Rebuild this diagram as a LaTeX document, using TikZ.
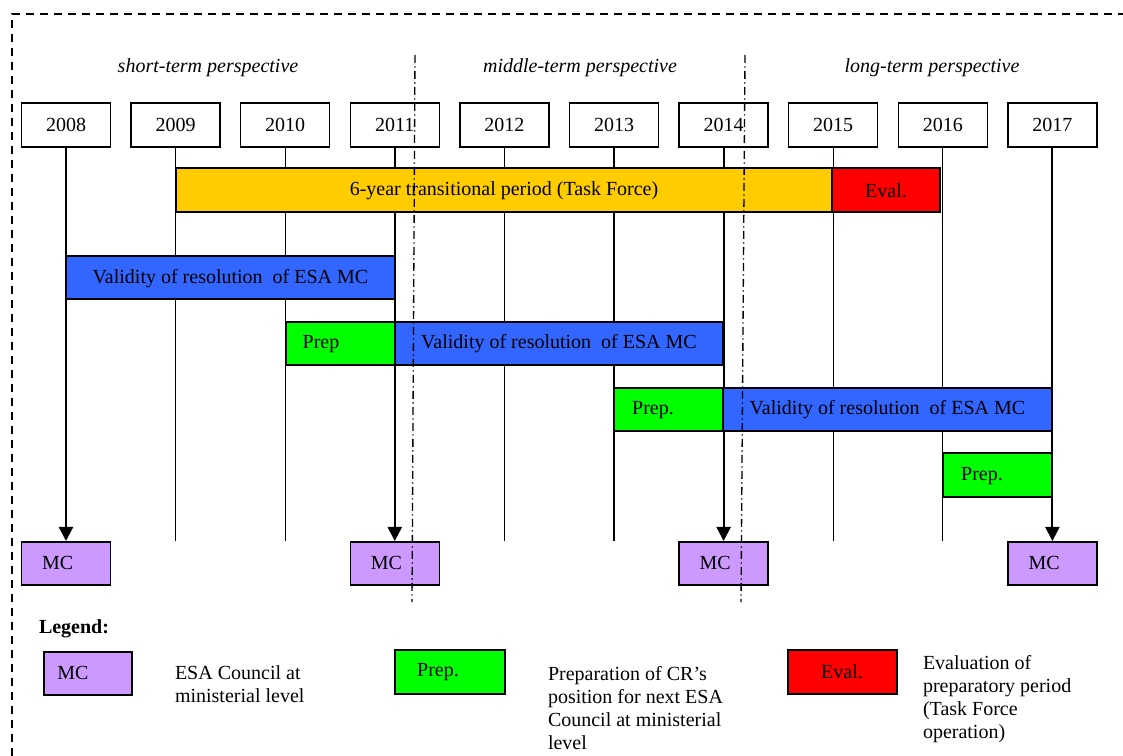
\documentclass[12pt,tikz,border=0pt]{standalone}
\usepackage{fontspec}
\setmainfont{Liberation Serif}
\usetikzlibrary{arrows.meta}

\definecolor{tfyellow}{HTML}{FFCC00}
\definecolor{evalred}{HTML}{FF0000}
\definecolor{resblue}{HTML}{3366FF}
\definecolor{prepgreen}{HTML}{00FF00}
\definecolor{mcpurple}{HTML}{CC99FF}

\begin{document}
\begin{tikzpicture}[x=0.6pt,y=-0.6pt,
    yearbox/.style={draw,line width=0.9pt,fill=white,minimum width=53.4pt,minimum height=26.4pt,inner sep=0pt},
    mcbox/.style={draw,line width=0.9pt,fill=mcpurple,minimum width=53.4pt,minimum height=26pt,inner sep=0pt,
      label={[xshift=-5pt]center:MC}},
    period/.style={draw,line width=0.9pt},
    timeline/.style={line width=0.7pt},
    mcarrow/.style={line width=1.3pt,-{Triangle[length=8.5pt,width=8.5pt]}},
    divider/.style={line width=0.8pt,dash pattern=on 4.8pt off 2pt on 0.8pt off 2pt},
    frame/.style={line width=0.7pt,dash pattern=on 4.8pt off 3.6pt},
    desc/.style={anchor=north west,align=left,font=\fontsize{12}{13.8}\selectfont}]
  \useasboundingbox (0,0) rectangle (1123,756);
  \draw[frame] (12,756) -- (12,14) -- (1123,14);

  % perspectives
  \node[font=\itshape] (short) at (208,68) {short-term perspective};
  \node[font=\itshape] (middle) at (580,68) {middle-term perspective};
  \node[font=\itshape] (long) at (932,68) {long-term perspective};

  % years
  \foreach \yr [count=\i from 0] in {2008,...,2017}
    \node[yearbox] (y\yr) at ({66+109.6*\i},125) {\yr};
  \coordinate (base) at (0,541);

  % council meetings
  \foreach \yr in {2008,2011,2014,2017}
    \node[mcbox,anchor=north] (mc\yr) at (y\yr.south |- base) {};

  % time lines
  \foreach \yr in {2009,2010,2012,2013,2015,2016}
    \draw[timeline] (y\yr.south) -- (y\yr.south |- base);
  \foreach \yr in {2008,2011,2014,2017}
    \draw[mcarrow] (y\yr.south) -- (mc\yr.north);

  % periods
  \draw[period,fill=tfyellow] (176,168) rectangle (832,212);
  \draw[period,fill=evalred] (832,168) rectangle (940,212);
  \node (transit) at (504,191) {6-year transitional period (Task Force)};
  \node (eval) at (886,191) {Eval.};

  \draw[period,fill=resblue] (66,256) rectangle (395,299);
  \node (valid1) at (230.5,278.5) {Validity of resolution\ \ of ESA MC};

  \draw[period,fill=prepgreen] (286,322) rectangle (395,365);
  \draw[period,fill=resblue] (395,322) rectangle (723,365);
  \node (prep1) at (321,344) {Prep};
  \node (valid2) at (559,344) {Validity of resolution\ \ of ESA MC};

  \draw[period,fill=prepgreen] (614,388) rectangle (723,431);
  \draw[period,fill=resblue] (723,388) rectangle (1052,431);
  \node (prep2) at (653,410) {Prep.};
  \node (valid3) at (887.5,410) {Validity of resolution\ \ of ESA MC};

  \draw[period,fill=prepgreen] (943,453) rectangle (1052,497);
  \node (prep3) at (982,476) {Prep.};

  % perspective borders
  \draw[divider] (415,55) -- (412,602);
  \draw[divider] (745,55) -- (741,602);

  % legend
  \node[font=\bfseries] (legend) at (74,629) {Legend:};
  \draw[period,fill=mcpurple] (44,652) rectangle (132,695);
  \node (legmc) at (73,673) {MC};
  \node[desc] (mcdesc) at (168,659) {ESA Council at\\ministerial level};
  \draw[period,fill=prepgreen] (395,650) rectangle (505,694);
  \node (legprep) at (438,672) {Prep.};
  \node[desc] (prepdesc) at (541,659) {Preparation of CR’s\\position for next ESA\\Council at ministerial\\level};
  \draw[period,fill=evalred] (788,650) rectangle (897,694);
  \node (legeval) at (842,672) {Eval.};
  \node[desc] (evaldesc) at (916,648) {Evaluation of\\preparatory period\\(Task Force\\operation)};
\end{tikzpicture}
\end{document}
